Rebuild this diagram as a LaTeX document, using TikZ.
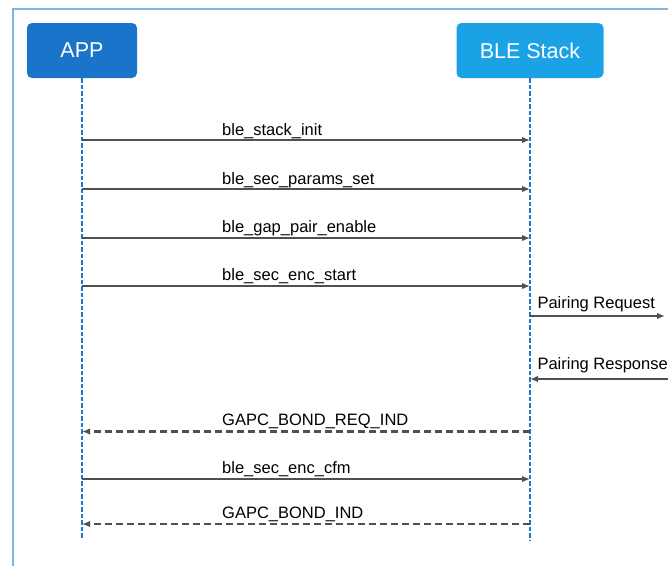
\documentclass[tikz,border=0pt]{standalone}
\usepackage{fontspec}
\setmainfont{Liberation Sans}
\usetikzlibrary{arrows.meta,positioning}

\definecolor{appblue}{RGB}{25,116,202}
\definecolor{stackblue}{RGB}{26,161,230}
\definecolor{lifeblue}{RGB}{32,122,204}
\definecolor{framblue}{RGB}{128,183,224}
\definecolor{msggray}{RGB}{80,80,80}

\tikzset{
    actor/.style={rounded corners=5pt, text=white, minimum height=55pt,
        font=\fontsize{21.5}{24}\selectfont},
    lifeline/.style={draw=lifeblue, line width=2pt, dash pattern=on 4.5pt off 2pt},
    msg/.style={draw=msggray, line width=1.5pt, -{Latex[length=8pt,width=6.5pt]}},
    reply/.style={msg, line width=2.4pt, dash pattern=on 7pt off 4pt},
    msglabel/.style={anchor=base west, inner sep=0pt, font=\fontsize{16.5}{19}\selectfont}
}

\begin{document}
\begin{tikzpicture}[x=1pt,y=-1pt]
    \useasboundingbox (0,0) rectangle (668,566);

    % Frame
    \coordinate (frametop) at (668,9);
    \coordinate (framecorner) at (13,9);
    \coordinate (framebottom) at (13,566);
    \draw[framblue, line width=2.5pt] (frametop) -- (framecorner) -- (framebottom);

    % Actors
    \node[actor, fill=appblue, minimum width=110pt] (app) at (82,50.5) {APP};
    \node[actor, fill=stackblue, minimum width=147pt] (stack) at (530,50.5) {BLE Stack};

    % Lifelines
    \coordinate (append) at (82,538);
    \coordinate (stackend) at (530,540);
    \draw[lifeline] (app.south) -- (append);
    \draw[lifeline] (stack.south) -- (stackend);

    % Points on the lifelines
    \coordinate (a1) at (82,140);   \coordinate (b1) at (530,140);
    \coordinate (a2) at (82,189);   \coordinate (b2) at (530,189);
    \coordinate (a3) at (82,238);   \coordinate (b3) at (530,238);
    \coordinate (a4) at (82,286);   \coordinate (b4) at (530,286);
    \coordinate (b5) at (530,316);  \coordinate (peer5) at (665,316);
    \coordinate (b6) at (530,379);  \coordinate (peer6) at (668,379);
    \coordinate (a7) at (82,431.5); \coordinate (b7) at (530,431.5);
    \coordinate (a8) at (82,479);   \coordinate (b8) at (530,479);
    \coordinate (a9) at (82,524);   \coordinate (b9) at (530,524);

    % Messages
    \draw[msg] (a1) -- (b1);
    \node[msglabel] (l1) at (222,135) {ble\_stack\_init};
    \draw[msg] (a2) -- (b2);
    \node[msglabel] (l2) at (222,184) {ble\_sec\_params\_set};
    \draw[msg] (a3) -- (b3);
    \node[msglabel] (l3) at (222,232.5) {ble\_gap\_pair\_enable};
    \draw[msg] (a4) -- (b4);
    \node[msglabel] (l4) at (222,280.5) {ble\_sec\_enc\_start};
    \draw[msg] (b5) -- (peer5);
    \node[msglabel] (l5) at (537.3,308.7) {Pairing Request};
    \draw[msg] (peer6) -- (b6);
    \node[msglabel] (l6) at (537.3,369.3) {Pairing Response};
    \draw[reply] (b7) -- (a7);
    \node[msglabel] (l7) at (222,425.3) {GAPC\_BOND\_REQ\_IND};
    \draw[msg] (a8) -- (b8);
    \node[msglabel] (l8) at (222,473.5) {ble\_sec\_enc\_cfm};
    \draw[reply] (b9) -- (a9);
    \node[msglabel] (l9) at (222,518) {GAPC\_BOND\_IND};
\end{tikzpicture}
\end{document}
